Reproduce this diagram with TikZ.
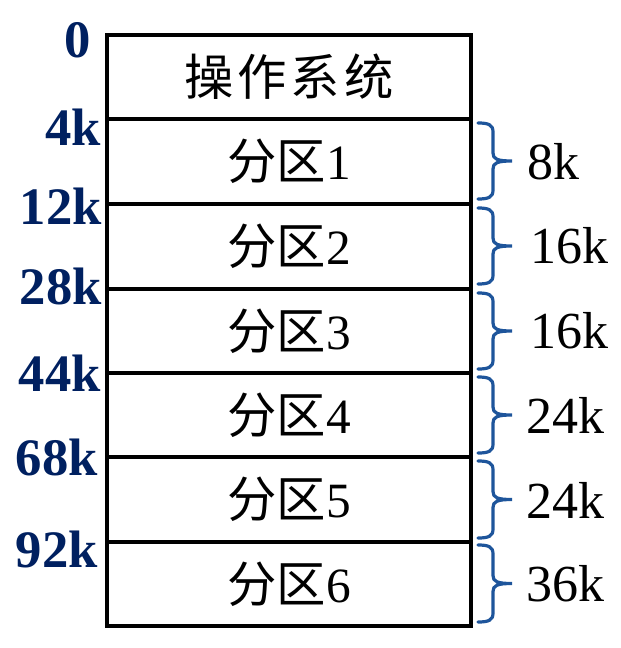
\documentclass[tikz,border=0pt]{standalone}
\usepackage{fontspec}
\setmainfont{Liberation Serif}
\newfontfamily\cjk{Noto Sans CJK SC}
\definecolor{navy}{RGB}{0,32,96}
\definecolor{braceblue}{RGB}{30,85,155}
\tikzset{
  cell/.style={draw=black, line width=2.3pt, minimum width=273pt, minimum height=63pt, inner sep=0pt, font=\fontsize{37}{40}\selectfont},
  addr/.style={text=navy, font=\bfseries\fontsize{39.5}{42}\selectfont, anchor=east, inner sep=0pt},
  sizelab/.style={text=black, font=\fontsize{39}{42}\selectfont, anchor=west, inner sep=0pt},
  brc/.style={draw=braceblue, line width=2.4pt, line cap=round}
}
\newcommand{\mybrace}[2]{% top y, bottom y
  \pgfmathsetmacro{\mid}{(#1+#2)/2}
  \draw[brc] (478,#1) .. controls (489,#1) and (493,#1+2) .. (493,#1+9)
    -- (493,\mid-8) .. controls (493,\mid-2) and (497,\mid) .. (512,\mid)
    .. controls (497,\mid) and (493,\mid+2) .. (493,\mid+8)
    -- (493,#2-9) .. controls (493,#2-2) and (489,#2) .. (478,#2);
}
\begin{document}
\begin{tikzpicture}[x=0.75pt, y=-0.75pt]
\useasboundingbox (0,0) rectangle (620,648);
% cells
\node[cell] (os) at (289,77) {{\cjk 操\hspace{3pt}作\hspace{3pt}系\hspace{3pt}统}};
\node[cell] (p1) at (289,161.5) {{\cjk 分区}1};
\node[cell] (p2) at (289,246.5) {{\cjk 分区}2};
\node[cell] (p3) at (289,331) {{\cjk 分区}3};
\node[cell] (p4) at (289,415) {{\cjk 分区}4};
\node[cell] (p5) at (289,499.5) {{\cjk 分区}5};
\node[cell] (p6) at (289,584) {{\cjk 分区}6};
% address labels
\node[addr] (a0) at (91,40) {0};
\node[addr] (a4) at (101,127) {4k};
\node[addr] (a12) at (102,206) {12k};
\node[addr] (a28) at (102,286) {28k};
\node[addr] (a44) at (101,373) {44k};
\node[addr] (a68) at (98,457) {68k};
\node[addr] (a92) at (98,549) {92k};
% braces
\mybrace{123}{199}
\mybrace{208}{284}
\mybrace{293}{369}
\mybrace{377}{453}
\mybrace{461}{538}
\mybrace{545}{622}
% size labels
\node[sizelab] (s1) at (527,162) {8k};
\node[sizelab] (s2) at (530,246) {16k};
\node[sizelab] (s3) at (530,331) {16k};
\node[sizelab] (s4) at (526,415) {24k};
\node[sizelab] (s5) at (526,500) {24k};
\node[sizelab] (s6) at (526,584) {36k};
\end{tikzpicture}
\end{document}
